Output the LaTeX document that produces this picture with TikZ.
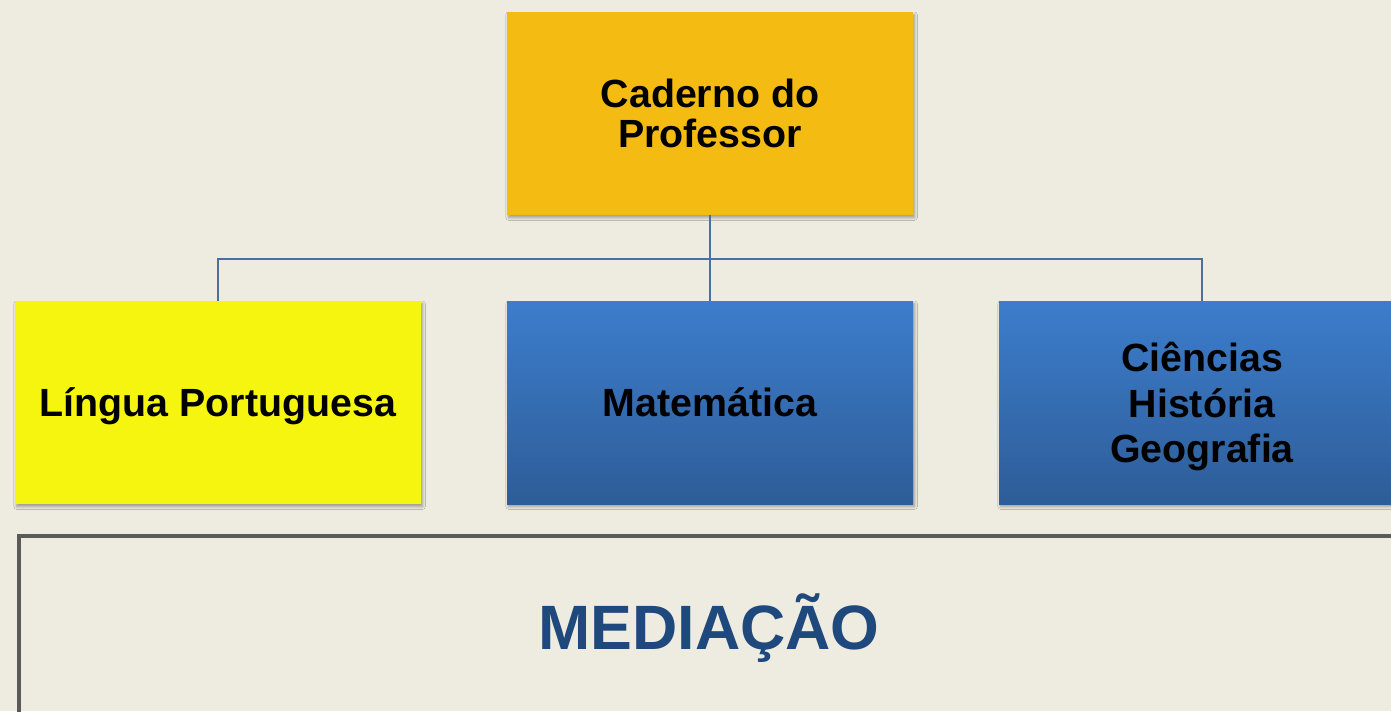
\documentclass[tikz,border=0pt]{standalone}
\usepackage{fontspec}
\setmainfont{Liberation Sans}
\usetikzlibrary{positioning,shadows.blur,calc}
\definecolor{bgbeige}{RGB}{238,235,224}
\definecolor{cadernogold}{RGB}{244,188,18}
\definecolor{linguayellow}{RGB}{245,245,16}
\definecolor{bluetop}{RGB}{60,125,204}
\definecolor{bluebottom}{RGB}{46,93,152}
\definecolor{linkblue}{RGB}{74,111,160}
\definecolor{framegray}{RGB}{90,90,90}
\definecolor{mediacaoblue}{RGB}{31,73,125}

\begin{document}
\begin{tikzpicture}[x=0.75pt, y=-0.75pt,
  box/.style={rectangle, minimum width=304.5pt, minimum height=152.25pt, inner sep=0pt, text depth=0pt, align=center, font=\fontsize{29.5}{30}\selectfont\bfseries, blur shadow={shadow xshift=1.2pt, shadow yshift=-2pt, shadow blur radius=2pt, shadow blur steps=6, shadow opacity=35}},
  bluebox/.style={box, top color=bluetop, bottom color=bluebottom},
  link/.style={draw=linkblue, line width=1.5pt}]
  \useasboundingbox (0,0) rectangle (1391,711);
  \fill[bgbeige] (0,0) rectangle (1391,711);
  \clip (0,0) rectangle (1391,711);

  % top of the tree
  \node[box, fill=cadernogold] (caderno) at (710,113.5) {Caderno do\\Professor};
  \coordinate (bus) at (710,259);

  % subjects
  \node[box, fill=linguayellow] (lingua) at (218,402.5) {Língua Portuguesa};
  \node[bluebox] (matematica) at (710,402.5) {Matemática};
  \node[bluebox, font=\fontsize{29.5}{34}\selectfont\bfseries] (ciencias) at (1202,402.5) {Ciências\\História\\Geografia};

  \draw[link] (caderno.south) -- (matematica.north);
  \draw[link] (lingua.north) |- (bus);
  \draw[link] (ciencias.north) |- (bus);

  % bottom frame
  \draw[framegray, line width=3.4pt] (19,780) -- (19,536) -- (1430,536);
  \node[anchor=base, text=mediacaoblue, font=\fontsize{47}{50}\selectfont\bfseries] (mediacao) at (709,649) {MEDIAÇÃO};
\end{tikzpicture}
\end{document}
